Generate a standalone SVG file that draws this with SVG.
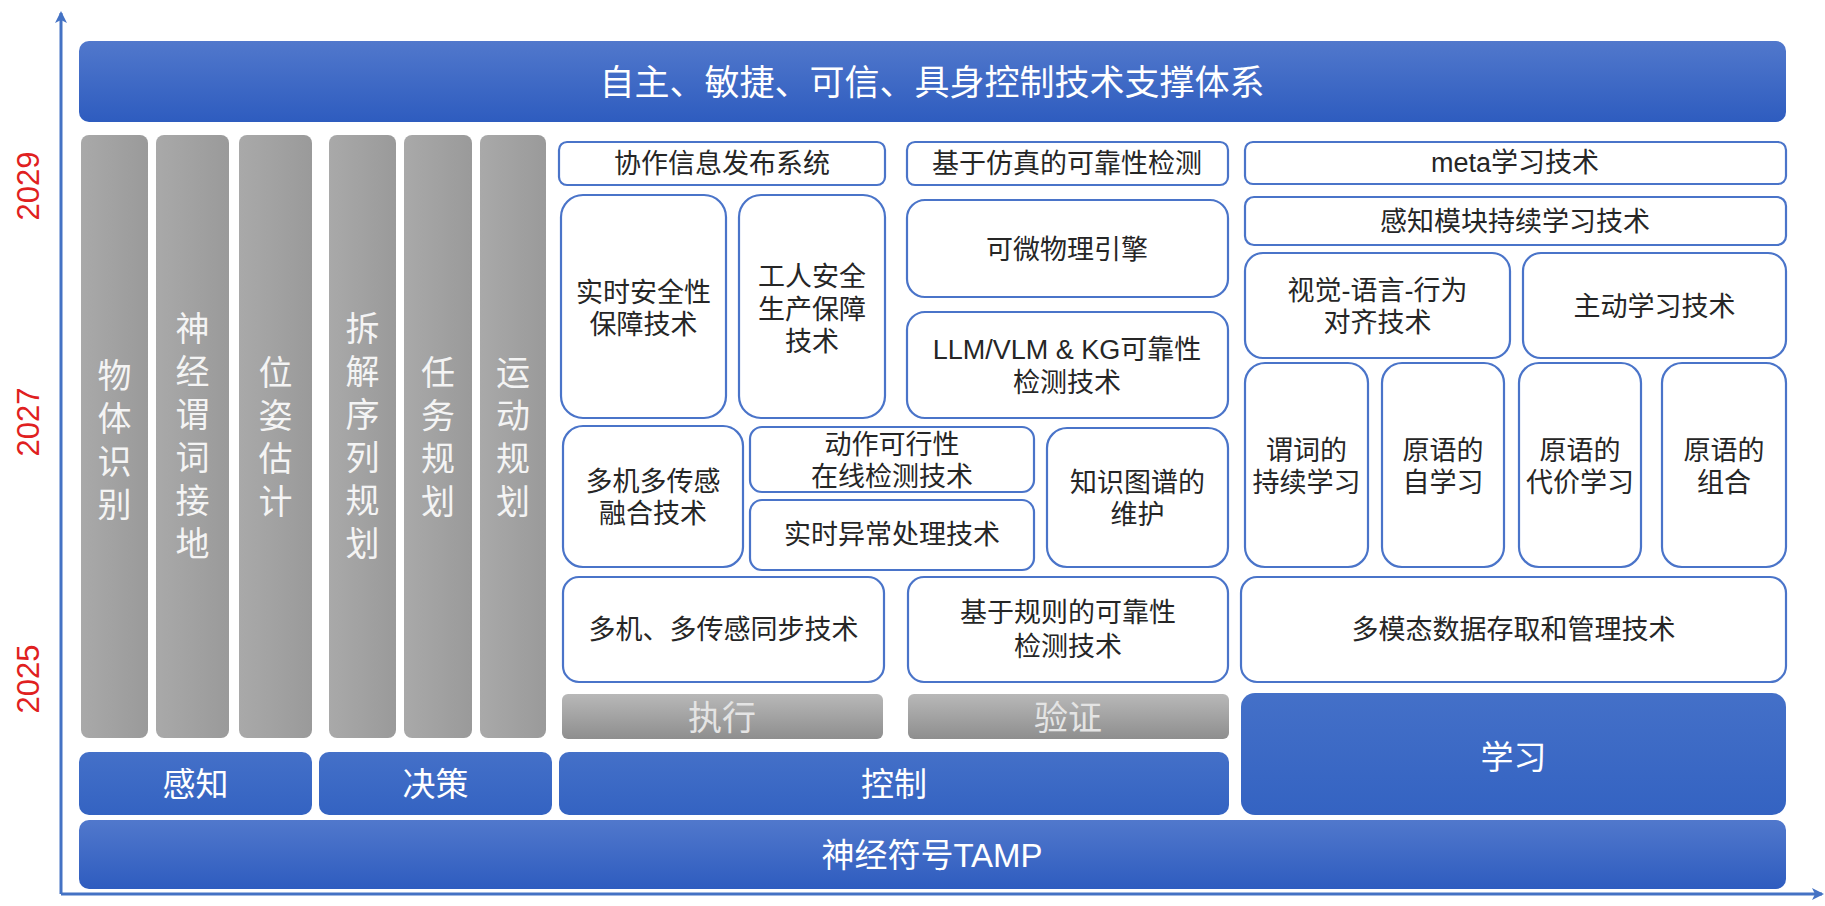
<svg xmlns="http://www.w3.org/2000/svg" width="1825" height="906" viewBox="0 0 1825 906">
<defs>
  <linearGradient id="gBlue" x1="0" y1="0" x2="0" y2="1">
    <stop offset="0" stop-color="#5178cc"/>
    <stop offset="1" stop-color="#2e5cbf"/>
  </linearGradient>
  <linearGradient id="gBlue2" x1="0" y1="0" x2="0" y2="1">
    <stop offset="0" stop-color="#4470c8"/>
    <stop offset="1" stop-color="#3463c2"/>
  </linearGradient>
  <linearGradient id="gGray" x1="0" y1="0" x2="1" y2="0">
    <stop offset="0" stop-color="#a9a9a9"/>
    <stop offset="1" stop-color="#9a9a9a"/>
  </linearGradient>
  <linearGradient id="gTab" x1="0" y1="0" x2="0" y2="1">
    <stop offset="0" stop-color="#b8b8b8"/>
    <stop offset="1" stop-color="#8e8e8e"/>
  </linearGradient>
  <marker id="arrow" viewBox="0 0 12 12" refX="10" refY="6" markerWidth="12" markerHeight="12" markerUnits="userSpaceOnUse" orient="auto">
    <path d="M0,0 L12,6 L0,12 L3,6 Z" fill="#4472c4"/>
  </marker>
  <style>
    .bar{fill:url(#gBlue);}
    .bar2{fill:url(#gBlue2);}
    .col{fill:url(#gGray);}
    .tab{fill:url(#gTab);}
    .box{fill:#ffffff;stroke:#4a74c9;stroke-width:2.2;}
    .t{font-family:"Liberation Sans","Noto Sans CJK SC",sans-serif;font-size:27px;fill:#262626;text-anchor:middle;dominant-baseline:central;}
    .w{font-family:"Liberation Sans","Noto Sans CJK SC",sans-serif;fill:#ffffff;text-anchor:middle;dominant-baseline:central;}
    .cv{font-family:"Liberation Sans","Noto Sans CJK SC",sans-serif;font-size:34px;fill:#f4f4f4;text-anchor:middle;dominant-baseline:central;}
    .g{font-family:"Liberation Sans","Noto Sans CJK SC",sans-serif;font-size:34px;fill:#e4e4e4;text-anchor:middle;dominant-baseline:central;}
    .yr{font-family:"Liberation Sans",Arial,sans-serif;font-size:31px;fill:#e02020;text-anchor:middle;dominant-baseline:central;}
    .axis{stroke:#4472c4;stroke-width:3;fill:none;}
  </style>
</defs>
<rect width="1825" height="906" fill="#ffffff"/>

<g id="connectors">
  <line class="axis" x1="61" y1="894" x2="61" y2="13" marker-end="url(#arrow)"/>
  <line class="axis" x1="61" y1="894" x2="1822" y2="894" marker-end="url(#arrow)"/>
</g>

<g id="years">
  <text class="yr" transform="translate(28,186) rotate(-90)">2029</text>
  <text class="yr" transform="translate(28,422) rotate(-90)">2027</text>
  <text class="yr" transform="translate(28,679) rotate(-90)">2025</text>
</g>

<g id="banner">
  <rect class="bar" x="79" y="41" width="1707" height="81" rx="10"/>
  <text class="w" x="932" y="82" font-size="35">自主、敏捷、可信、具身控制技术支撑体系</text>
</g>

<g id="col-wutishibie">
  <rect class="col" x="81" y="135" width="67" height="603" rx="8"/>
  <text class="cv"><tspan x="114.5" y="376">物</tspan><tspan x="114.5" y="419">体</tspan><tspan x="114.5" y="462">识</tspan><tspan x="114.5" y="505">别</tspan></text>
</g>
<g id="col-shenjing">
  <rect class="col" x="156" y="135" width="73" height="603" rx="8"/>
  <text class="cv"><tspan x="192.5" y="329">神</tspan><tspan x="192.5" y="372">经</tspan><tspan x="192.5" y="415">谓</tspan><tspan x="192.5" y="458">词</tspan><tspan x="192.5" y="501">接</tspan><tspan x="192.5" y="544">地</tspan></text>
</g>
<g id="col-weizi">
  <rect class="col" x="239" y="135" width="73" height="603" rx="8"/>
  <text class="cv"><tspan x="275.5" y="373">位</tspan><tspan x="275.5" y="416">姿</tspan><tspan x="275.5" y="459">估</tspan><tspan x="275.5" y="502">计</tspan></text>
</g>
<g id="col-chaijie">
  <rect class="col" x="329" y="135" width="67" height="603" rx="8"/>
  <text class="cv"><tspan x="362.5" y="329">拆</tspan><tspan x="362.5" y="372">解</tspan><tspan x="362.5" y="415">序</tspan><tspan x="362.5" y="458">列</tspan><tspan x="362.5" y="501">规</tspan><tspan x="362.5" y="544">划</tspan></text>
</g>
<g id="col-renwu">
  <rect class="col" x="404" y="135" width="68" height="603" rx="8"/>
  <text class="cv"><tspan x="438" y="373">任</tspan><tspan x="438" y="416">务</tspan><tspan x="438" y="459">规</tspan><tspan x="438" y="502">划</tspan></text>
</g>
<g id="col-yundong">
  <rect class="col" x="480" y="135" width="66" height="603" rx="8"/>
  <text class="cv"><tspan x="513" y="373">运</tspan><tspan x="513" y="416">动</tspan><tspan x="513" y="459">规</tspan><tspan x="513" y="502">划</tspan></text>
</g>

<g id="n-xiezuo">
  <rect class="box" x="559" y="142" width="326" height="43" rx="8"/>
  <text class="t" x="722" y="164">协作信息发布系统</text>
</g>
<g id="n-fangzhen">
  <rect class="box" x="907" y="142" width="321" height="43" rx="8"/>
  <text class="t" x="1067" y="164">基于仿真的可靠性检测</text>
</g>
<g id="n-shishianquan">
  <rect class="box" x="561" y="195" width="165" height="223" rx="22"/>
  <text class="t"><tspan x="643.5" y="293">实时安全性</tspan><tspan x="643.5" y="325">保障技术</tspan></text>
</g>
<g id="n-gongren">
  <rect class="box" x="739" y="195" width="146" height="223" rx="22"/>
  <text class="t"><tspan x="812" y="277">工人安全</tspan><tspan x="812" y="310">生产保障</tspan><tspan x="812" y="342">技术</tspan></text>
</g>
<g id="n-kewei">
  <rect class="box" x="907" y="200" width="321" height="97" rx="18"/>
  <text class="t" x="1067" y="250">可微物理引擎</text>
</g>
<g id="n-llm">
  <rect class="box" x="907" y="312" width="321" height="106" rx="18"/>
  <text class="t"><tspan x="1067" y="350">LLM/VLM &amp; KG可靠性</tspan><tspan x="1067" y="383">检测技术</tspan></text>
</g>
<g id="n-ronghe">
  <rect class="box" x="563" y="426" width="180" height="141" rx="20"/>
  <text class="t"><tspan x="653" y="482">多机多传感</tspan><tspan x="653" y="514">融合技术</tspan></text>
</g>
<g id="n-kexing">
  <rect class="box" x="750" y="427" width="284" height="65" rx="12"/>
  <text class="t"><tspan x="892" y="445">动作可行性</tspan><tspan x="892" y="477">在线检测技术</tspan></text>
</g>
<g id="n-yichang">
  <rect class="box" x="750" y="500" width="284" height="70" rx="12"/>
  <text class="t" x="892" y="535">实时异常处理技术</text>
</g>
<g id="n-zhishi">
  <rect class="box" x="1047" y="428" width="181" height="139" rx="20"/>
  <text class="t"><tspan x="1137.5" y="483">知识图谱的</tspan><tspan x="1137.5" y="515">维护</tspan></text>
</g>
<g id="n-tongbu">
  <rect class="box" x="563" y="577" width="321" height="105" rx="16"/>
  <text class="t" x="723.5" y="630">多机、多传感同步技术</text>
</g>
<g id="n-guize">
  <rect class="box" x="908" y="577" width="320" height="105" rx="16"/>
  <text class="t"><tspan x="1068" y="613">基于规则的可靠性</tspan><tspan x="1068" y="647">检测技术</tspan></text>
</g>

<g id="n-meta">
  <rect class="box" x="1245" y="142" width="541" height="42" rx="8"/>
  <text class="t" x="1515" y="163">meta学习技术</text>
</g>
<g id="n-ganzhimokuai">
  <rect class="box" x="1245" y="197" width="541" height="48" rx="9"/>
  <text class="t" x="1515" y="222">感知模块持续学习技术</text>
</g>
<g id="n-shijue">
  <rect class="box" x="1245" y="253" width="265" height="105" rx="18"/>
  <text class="t"><tspan x="1377.5" y="291">视觉-语言-行为</tspan><tspan x="1377.5" y="323">对齐技术</tspan></text>
</g>
<g id="n-zhudong">
  <rect class="box" x="1523" y="253" width="263" height="105" rx="18"/>
  <text class="t" x="1654.5" y="307">主动学习技术</text>
</g>
<g id="n-weici">
  <rect class="box" x="1245" y="363" width="123" height="204" rx="20"/>
  <text class="t"><tspan x="1306.5" y="451">谓词的</tspan><tspan x="1306.5" y="483">持续学习</tspan></text>
</g>
<g id="n-zixuexi">
  <rect class="box" x="1382" y="363" width="122" height="204" rx="20"/>
  <text class="t"><tspan x="1443" y="451">原语的</tspan><tspan x="1443" y="483">自学习</tspan></text>
</g>
<g id="n-daijia">
  <rect class="box" x="1519" y="363" width="122" height="204" rx="20"/>
  <text class="t"><tspan x="1580" y="451">原语的</tspan><tspan x="1580" y="483">代价学习</tspan></text>
</g>
<g id="n-zuhe">
  <rect class="box" x="1662" y="363" width="124" height="204" rx="20"/>
  <text class="t"><tspan x="1724" y="451">原语的</tspan><tspan x="1724" y="483">组合</tspan></text>
</g>
<g id="n-duomotai">
  <rect class="box" x="1241" y="577" width="545" height="105" rx="16"/>
  <text class="t" x="1513.5" y="630">多模态数据存取和管理技术</text>
</g>

<g id="tab-zhixing">
  <rect class="tab" x="562" y="694" width="321" height="45" rx="6"/>
  <text class="g" x="722" y="718">执行</text>
</g>
<g id="tab-yanzheng">
  <rect class="tab" x="908" y="694" width="321" height="45" rx="6"/>
  <text class="g" x="1068" y="718">验证</text>
</g>

<g id="b-ganzhi">
  <rect class="bar2" x="79" y="752" width="233" height="63" rx="10"/>
  <text class="w" x="195.5" y="784" font-size="33">感知</text>
</g>
<g id="b-juece">
  <rect class="bar2" x="319" y="752" width="233" height="63" rx="10"/>
  <text class="w" x="435.5" y="784" font-size="33">决策</text>
</g>
<g id="b-kongzhi">
  <rect class="bar2" x="559" y="752" width="670" height="63" rx="10"/>
  <text class="w" x="894" y="784" font-size="33">控制</text>
</g>
<g id="b-xuexi">
  <rect class="bar2" x="1241" y="693" width="545" height="122" rx="14"/>
  <text class="w" x="1513.5" y="757" font-size="33">学习</text>
</g>
<g id="b-tamp">
  <rect class="bar" x="79" y="820" width="1707" height="69" rx="10"/>
  <text class="w" x="932" y="855" font-size="33">神经符号TAMP</text>
</g>
</svg>
